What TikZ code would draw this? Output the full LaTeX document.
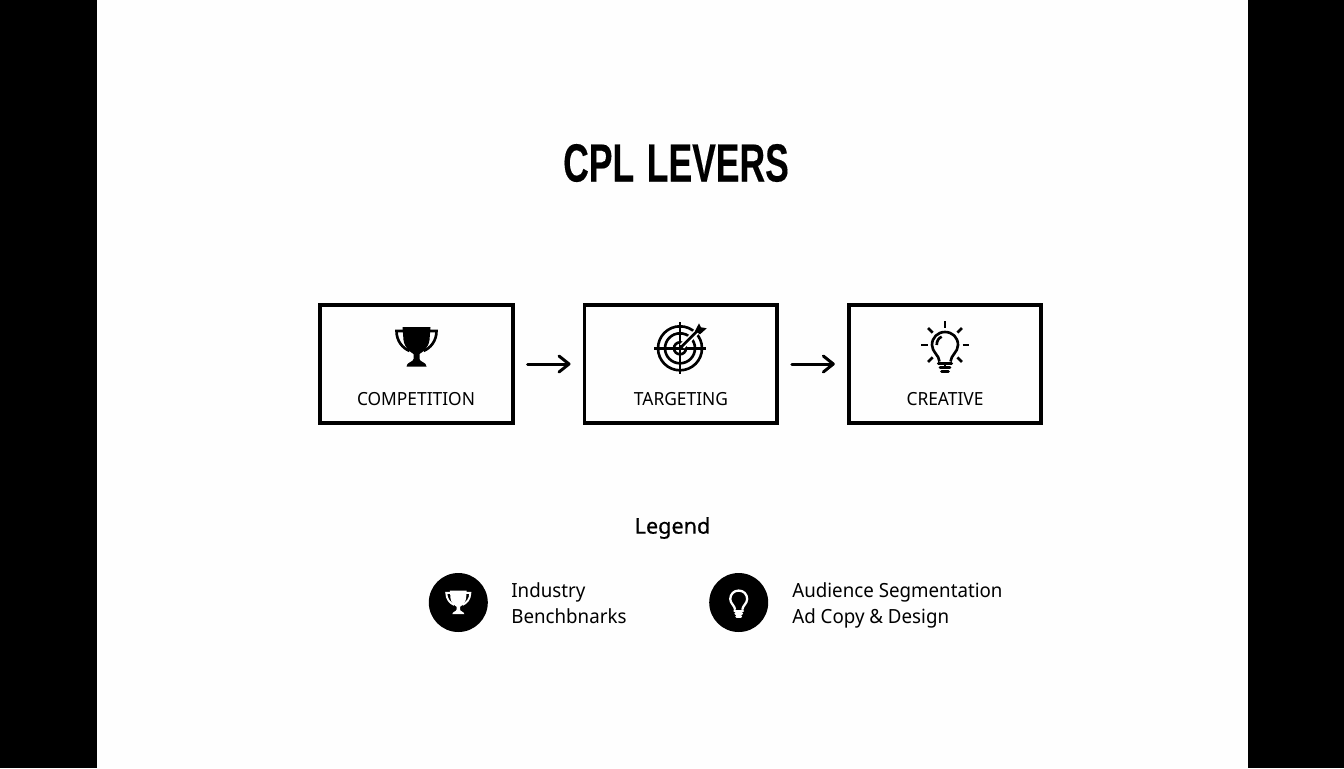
\documentclass[tikz,border=0pt]{standalone}
\usepackage{fontspec}
\usetikzlibrary{arrows.meta}
\setmainfont[FakeStretch=0.96]{Noto Sans}
\newfontfamily\titlefont[FakeStretch=0.66,FakeBold=0.2]{Liberation Sans Bold}
\newfontfamily\legendfont[FakeBold=0.6]{Noto Sans}

\definecolor{fond}{HTML}{FEFEFE}

\tikzset{
    leverbox/.style={draw, line width=2.1pt, minimum width=3.85cm, minimum height=2.36cm, inner sep=0pt},
    leverlabel/.style={font=\fontsize{10.3}{12}\selectfont, inner sep=0pt},
    leverarrow/.style={line width=1.7pt, line cap=round, -{Straight Barb[round, length=2mm, width=3.2mm, line width=1.7pt]}, shorten <=13*0.0202cm, shorten >=12*0.0202cm},
    legenddisc/.style={circle, fill=black, minimum size=1.18cm, inner sep=0pt},
    legendtext/.style={anchor=west, align=left, inner sep=0pt, font=\fontsize{11.1}{14.8}\selectfont},
    iconline/.style={line width=1.5pt},
    trophy/.pic={
        \fill (-14,-20) -- (14,-20) -- (13,-7) .. controls (12,1) and (6,5) .. (3,7)
            -- (3,12) .. controls (3,15) and (10,15) .. (10,19.5) -- (-10,19.5)
            .. controls (-10,15) and (-3,15) .. (-3,12) -- (-3,7)
            .. controls (-6,5) and (-12,1) .. (-13,-7) -- cycle;
        \draw[iconline] (-13,-16) -- (-20,-16) .. controls (-20,-6) and (-14,1) .. (-7,4);
        \draw[iconline] (13,-16) -- (20,-16) .. controls (20,-6) and (14,1) .. (7,4);
    },
    target/.pic={
        \foreach \r in {6,15,22} {
            \draw[iconline] (0,0) circle (\r);
        }
        \draw[iconline] (-26,0) -- (26,0);
        \draw[iconline] (0,-26) -- (0,26);
        \draw[line width=3.4pt, white] (2,-2) -- (22,-22);
        \draw[iconline] (0,0) -- (18,-18);
        \fill (19,-25) -- (21,-21) -- (26.7,-20) -- (20,-14) -- (15,-17.3) -- cycle;
    },
    bulb/.pic={
        \draw[iconline] (-5.5,16.5) .. controls (-6,10) and (-13,7) .. (-13,0)
            .. controls (-13,-7.5) and (-7.5,-13) .. (0,-13)
            .. controls (7.5,-13) and (13,-7.5) .. (13,0)
            .. controls (13,7) and (6,10) .. (5.5,16.5);
        \draw[iconline, line cap=round] (-6.7,18.3) -- (6.7,18.3);
        \draw[iconline, line cap=round] (-5,22.3) -- (5,22.3);
        \draw[iconline, line cap=round] (-3.5,26.7) -- (3.5,26.7);
    },
    bulbrays/.pic={
        \draw[iconline] (-8.3,0) .. controls (-8.3,-4) and (-6.5,-7) .. (-3.3,-8.3);
        \foreach \a in {0,45,90,135,180,225,270,315} {
            \draw[iconline] (\a:17.5) -- (\a:24);
        }
    }
}

\begin{document}
\begin{tikzpicture}[x=0.02cm, y=-0.02cm]
    \useasboundingbox (0,0) rectangle (1344,768);

    % Fond et bandes noires
    \fill[fond] (0,0) rectangle (1344,768);
    \fill[black] (0,0) rectangle (97,768);
    \fill[black] (1248,0) rectangle (1344,768);

    % Titre
    \node[font=\titlefont\fontsize{30.6}{36}\selectfont, inner sep=0pt] (title) at (676,163) {CPL\hspace{1.6pt} LEVERS};

    % Boites
    \node[leverbox] (competition) at (416.5,364) {};
    \node[leverbox] (targeting) at (680.7,364) {};
    \node[leverbox] (creative) at (945,364) {};

    % Etiquettes
    \node[leverlabel] (competitionlabel) at (416,399) {COMPETITION};
    \node[leverlabel] (targetinglabel) at (681,399) {TARGETING};
    \node[leverlabel] (creativelabel) at (945,399) {CREATIVE};

    % Fleches
    \draw[leverarrow] (competition) -- (targeting);
    \draw[leverarrow] (targeting) -- (creative);

    % Icones
    \pic at (416.5,347) {trophy};
    \pic at (680,348.3) {target};
    \pic at (945,345) {bulb};
    \pic at (945,345) {bulbrays};

    % Legende
    \node[font=\legendfont\fontsize{12.3}{15}\selectfont, inner sep=0pt] (legend) at (672.5,528) {Legend};
    \node[legenddisc] (discone) at (458.3,602.5) {};
    \node[legenddisc] (disctwo) at (738.7,602.5) {};
    \pic[white, scale=0.6, iconline/.style={line width=1.1pt}] at (458.3,602.5) {trophy};
    \pic[white, scale=0.65, iconline/.style={line width=1.3pt}] at (738.7,599) {bulb};
    \node[legendtext] (industry) at (511,603.5) {Industry\\Benchbnarks};
    \node[legendtext] (audience) at (792,605.5) {Audience Segmentation\\Ad Copy \& Design};
\end{tikzpicture}
\end{document}
